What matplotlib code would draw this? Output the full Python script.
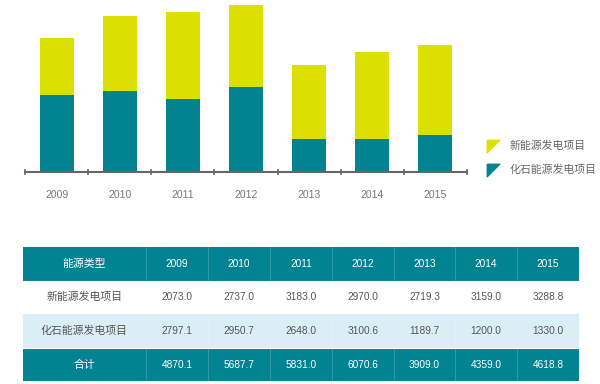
import matplotlib

matplotlib.use("Agg")
import matplotlib.pyplot as plt
from matplotlib.patches import Rectangle

plt.rcParams["font.family"] = ["Liberation Sans", "Noto Sans CJK SC", "DejaVu Sans"]

years = ["2009", "2010", "2011", "2012", "2013", "2014", "2015"]
new_energy = [2073.0, 2737.0, 3183.0, 2970.0, 2719.3, 3159.0, 3288.8]
fossil = [2797.1, 2950.7, 2648.0, 3100.6, 1189.7, 1200.0, 1330.0]
totals = [4870.1, 5687.7, 5831.0, 6070.6, 3909.0, 4359.0, 4618.8]
series_names = ["新能源发电项目", "化石能源发电项目"]
header_label = "能源类型"
total_label = "合计"

TEAL = "#028391"
YELLOW = "#dbe000"
LIGHT = "#d9eef5"
GRAY = "#666666"

W, H = 600, 384
fig = plt.figure(figsize=(6, 3.84), dpi=100)

# ---- bar chart ----
ax = fig.add_axes([25 / W, 1 - 172 / H, (467 - 25) / W, 172 / H])
x = list(range(len(years)))
ax.bar(x, fossil, width=0.54, color=TEAL)
ax.bar(x, new_energy, bottom=fossil, width=0.54, color=YELLOW)
ax.set_xlim(-0.5, len(years) - 0.5)
ax.set_ylim(0, 6266)
for side in ["left", "right", "top"]:
    ax.spines[side].set_visible(False)
ax.spines["bottom"].set_color(GRAY)
ax.spines["bottom"].set_linewidth(1.5)
ax.set_yticks([])
ax.set_xticks(x)
ax.set_xticklabels(years, fontsize=7.5, color="#777777")
ax.tick_params(axis="x", which="major", length=0, pad=13)
ax.set_xticks([i - 0.5 for i in range(len(years) + 1)], minor=True)
ax.tick_params(axis="x", which="minor", length=5, direction="inout",
               color=GRAY, width=1.2)

# ---- legend ----
tri = [(-1, 1), (1, 1), (-1, -1), (-1, 1)]
for i, (name, col) in enumerate(zip(series_names, [YELLOW, TEAL])):
    yy = 1 - (146 + i * 24) / H
    fig.lines.append(plt.Line2D([493 / W], [yy], marker=tri, markersize=9,
                                color=col, transform=fig.transFigure))
    fig.text(510 / W, yy, name, fontsize=7.8, color=GRAY, va="center")

# ---- table ----
tab = fig.add_axes([0, 0, 1, 1])
tab.set_xlim(0, W)
tab.set_ylim(H, 0)
tab.axis("off")

col_edges = [23, 146, 208, 270, 332, 394, 455, 517, 579]
row_edges = [247, 281, 313, 348, 381]
row_colors = [TEAL, "white", LIGHT, TEAL]
for r in range(4):
    tab.add_patch(Rectangle((col_edges[0], row_edges[r]), col_edges[-1] - col_edges[0],
                            row_edges[r + 1] - row_edges[r], color=row_colors[r], lw=0))
for xe in col_edges[1:-1]:
    tab.plot([xe, xe], [row_edges[0], row_edges[-1]], color="white", lw=0.5, alpha=0.25)
for ye in row_edges[1:-1]:
    tab.plot([col_edges[0], col_edges[-1]], [ye, ye], color="white", lw=0.8)

rows = [
    ([header_label] + years, "white"),
    ([series_names[0]] + [f"{v:.1f}" for v in new_energy], "#555555"),
    ([series_names[1]] + [f"{v:.1f}" for v in fossil], "#555555"),
    ([total_label] + [f"{v:.1f}" for v in totals], "white"),
]
for r, (cells, tc) in enumerate(rows):
    yc = (row_edges[r] + row_edges[r + 1]) / 2
    for c, txt in enumerate(cells):
        xc = (col_edges[c] + col_edges[c + 1]) / 2
        tab.text(xc, yc, txt, ha="center", va="center",
                 fontsize=7.8 if c == 0 else 7.3, color=tc)

fig.savefig("out.png", dpi=100)
